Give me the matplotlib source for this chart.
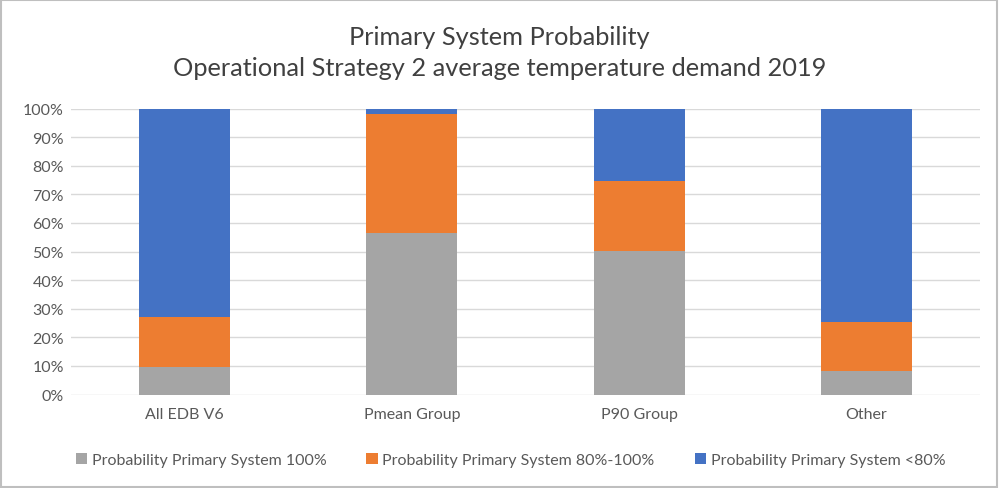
import matplotlib.pyplot as plt
from matplotlib.ticker import PercentFormatter

plt.rcParams['font.family'] = ['Lato', 'DejaVu Sans']

# Data
groups = ['All EDB V6', 'Pmean Group', 'P90 Group', 'Other']
p_100 = [9.8, 56.4, 50.1, 8.4]
p_80_100 = [17.5, 41.7, 24.7, 17.1]
p_below_80 = [72.7, 1.9, 25.2, 74.5]
series_names = ['Probability Primary System 100%',
                'Probability Primary System 80%-100%',
                'Probability Primary System <80%']
colors = ['#a5a5a5', '#ed7d31', '#4472c4']

fig = plt.figure(figsize=(9.99, 4.89), dpi=100)
ax = fig.add_axes([0.071, 0.191, 0.91, 0.585])

x = range(len(groups))
bottom = [0] * len(groups)
for vals, name, col in zip([p_100, p_80_100, p_below_80], series_names, colors):
    ax.bar(x, vals, width=0.4, bottom=bottom, color=col, label=name, zorder=3)
    bottom = [b + v for b, v in zip(bottom, vals)]

ax.set_ylim(0, 100)
ax.set_xlim(-0.5, len(groups) - 0.5)
ax.set_yticks(range(0, 101, 10))
ax.yaxis.set_major_formatter(PercentFormatter(decimals=0))
ax.set_xticks(list(x))
ax.set_xticklabels(groups)
ax.tick_params(axis='both', length=0, colors='#595959', labelsize=11.5, pad=9)
ax.tick_params(axis='y', pad=5)
ax.grid(axis='y', color='#d9d9d9', linewidth=1, zorder=0)
for s in ax.spines.values():
    s.set_visible(False)

fig.text(0.5, 0.892, 'Primary System Probability\nOperational Strategy 2 average temperature demand 2019',
         ha='center', va='center', fontsize=18.3, color='#404040', linespacing=1.45)

fig.legend(loc='center', bbox_to_anchor=(0.511, 0.058), ncol=3, frameon=False,
           fontsize=11.5, labelcolor='#595959', handlelength=0.7, handleheight=0.7,
           handletextpad=0.3, columnspacing=2.5)

# chart border
fig.patches.append(plt.Rectangle((0.001, 0.002), 0.997, 0.995, transform=fig.transFigure,
                                 fill=False, edgecolor='#bfbfbf', linewidth=1.5))

fig.savefig('out.png', dpi=100)
